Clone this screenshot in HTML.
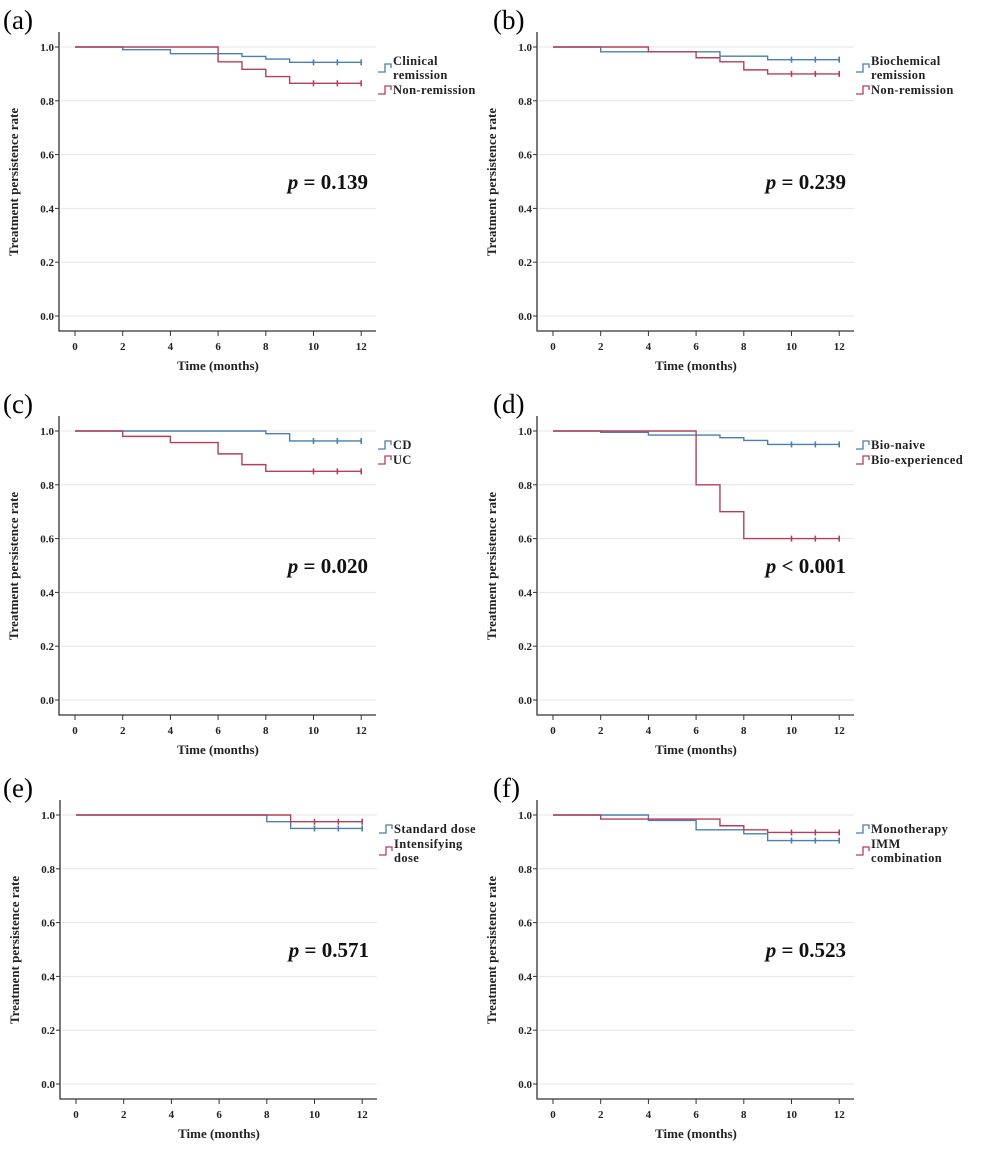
<!DOCTYPE html>
<html><head><meta charset="utf-8"><style>
body{margin:0;background:#fff;width:984px;height:1154px;overflow:hidden}
svg{display:block}
text{font-family:"Liberation Serif",serif}
</style></head><body>
<svg id="fig" width="984" height="1154" viewBox="0 0 984 1154"></svg>
<script>
const ticksX = [0,2,4,6,8,10,12];
const ticksY = [0,0.2,0.4,0.6,0.8,1.0];
const tickLabelsY = ["0.0","0.2","0.4","0.6","0.8","1.0"];
const panelLabels = ["(a)","(b)","(c)","(d)","(e)","(f)"];
const pValues = ["p = 0.139","p = 0.239","p = 0.020","p < 0.001","p = 0.571","p = 0.523"];
const aBlueT=[0,2,4,7,8,9,12], aBlueS=[1,0.99,0.975,0.965,0.955,0.943,0.943];
const aRedT=[0,6,7,8,9,12], aRedS=[1,0.945,0.917,0.89,0.865,0.865];
const bBlueT=[0,2,7,9,12], bBlueS=[1,0.982,0.966,0.953,0.953];
const bRedT=[0,4,6,7,8,9,12], bRedS=[1,0.982,0.96,0.945,0.915,0.9,0.9];
const cBlueT=[0,8,9,12], cBlueS=[1,0.99,0.963,0.963];
const cRedT=[0,2,4,6,7,8,12], cRedS=[1,0.98,0.957,0.915,0.875,0.85,0.85];
const dBlueT=[0,2,4,7,8,9,12], dBlueS=[1,0.995,0.985,0.975,0.965,0.95,0.95];
const dRedT=[0,6,7,8,12], dRedS=[1,0.8,0.7,0.6,0.6];
const eBlueT=[0,8,9,12], eBlueS=[1,0.975,0.95,0.95];
const eRedT=[0,9,12], eRedS=[1,0.975,0.975];
const fBlueT=[0,4,6,8,9,12], fBlueS=[1,0.98,0.945,0.93,0.905,0.905];
const fRedT=[0,2,6,7,8,9,12], fRedS=[1,0.985,0.985,0.96,0.945,0.935,0.935];
const censorTimes=[10,11,12];
const legends=[["Clinical|remission","Non-remission"],["Biochemical|remission","Non-remission"],["CD","UC"],["Bio-naive","Bio-experienced"],["Standard dose","Intensifying|dose"],["Monotherapy","IMM|combination"]];
const series=[[aBlueT,aBlueS,aRedT,aRedS],[bBlueT,bBlueS,bRedT,bRedS],[cBlueT,cBlueS,cRedT,cRedS],[dBlueT,dBlueS,dRedT,dRedS],[eBlueT,eBlueS,eRedT,eRedS],[fBlueT,fBlueS,fRedT,fRedS]];
const origins=[[75,47],[553,47],[75,431],[553,431],[76,815],[553,815]];
const BLUE="#4a7fae", RED="#b2405c";
const svg=document.getElementById('fig');
const NS="http://www.w3.org/2000/svg";
function mk(tag,attrs,parent){const e=document.createElementNS(NS,tag);for(const k in attrs)e.setAttribute(k,attrs[k]);(parent||svg).appendChild(e);return e;}
function stepPath(T,S,sx,sy){let d=`M${sx(T[0])},${sy(S[0])}`;for(let i=1;i<T.length;i++){d+=` H${sx(T[i])} V${sy(S[i])}`;}return d;}
function survAt(T,S,t){let v=S[0];for(let i=0;i<T.length;i++){if(T[i]<=t)v=S[i];}return v;}
for(let p=0;p<6;p++){
  const [ox,oy]=origins[p];
  const sx=t=>ox+t*23.85, sy=v=>oy+(1-v)*269;
  const g=mk('g',{});
  
  
  const lab=mk('text',{x:(p%2?493:3),y:oy-18,'font-size':27},g);lab.textContent=panelLabels[p];
  
  ticksY.forEach((v,i)=>{
    const gl=mk('line',{x1:ox-14,x2:ox+301,y1:sy(v),y2:sy(v),stroke:'#e4e4e4','stroke-width':1},g);
    
    mk('line',{x1:ox-20,x2:ox-16,y1:sy(v),y2:sy(v),stroke:'#333','stroke-width':1},g);
    const t=mk('text',{x:ox-21,y:sy(v)+4,'font-size':11,'font-weight':'bold','text-anchor':'end',fill:'#222'},g);t.textContent=tickLabelsY[i];
    
  });
  ticksX.forEach(v=>{
    mk('line',{x1:sx(v),x2:sx(v),y1:oy+284,y2:oy+289,stroke:'#333','stroke-width':1},g);
    const t=mk('text',{x:sx(v),y:oy+303,'font-size':11,'font-weight':'bold','text-anchor':'middle',fill:'#222'},g);t.textContent=v;
    
  });
  const ax=mk('path',{d:`M${ox-16},${oy-15} V${oy+284} H${ox+301}`,fill:'none',stroke:'#333','stroke-width':1.3},g);
  
  const xt=mk('text',{x:ox+143,y:oy+323,'font-size':13,'font-weight':'bold','text-anchor':'middle',fill:'#222'},g);xt.textContent="Time (months)";
  
  const yt=mk('text',{x:0,y:0,'font-size':13,'font-weight':'bold','text-anchor':'middle',fill:'#222',transform:`translate(${ox-57},${oy+135}) rotate(-90)`},g);yt.textContent="Treatment persistence rate";
  
  const [bT,bS,rT,rS]=series[p];
  [[bT,bS,BLUE,'blue'],[rT,rS,RED,'red']].forEach(([T,S,c,nm])=>{
    const pa=mk('path',{d:stepPath(T,S,sx,sy),fill:'none',stroke:c,'stroke-width':1.4},g);
    
    censorTimes.forEach(t=>{
      const m=mk('line',{x1:sx(t),x2:sx(t),y1:sy(survAt(T,S,t))-3,y2:sy(survAt(T,S,t))+3,stroke:c,'stroke-width':1.6},g);
      
    });
  });
  const pt=mk('text',{x:ox+293,y:oy+142,'font-size':21,'font-weight':'bold','text-anchor':'end',fill:'#111'},g);
  const pv=pValues[p];
  const ti=mk('tspan',{'font-style':'italic'},pt);ti.textContent="p";
  const tr=mk('tspan',{},pt);tr.textContent=pv.slice(1);
  
  const lx=ox+303; let ly=oy+14;
  legends[p].forEach((lbl,i)=>{
    const lines=lbl.split('|');
    const c=i===0?BLUE:RED;
    const ib=ly+(lines.length>1?7:0);
    const ic=mk('path',{d:`M${lx},${ib+4} H${lx+7} V${ib-4} H${lx+13} V${ib}`,fill:'none',stroke:c,'stroke-width':1.3},g);
    
    lines.forEach((ln,j)=>{
      const t=mk('text',{x:lx+15,y:ly+4+j*14,'font-size':12.5,'font-weight':'bold',fill:'#222','letter-spacing':'0.4'},g);t.textContent=ln;
      
    });
    ly+=lines.length*14+1;
  });
}
</script>
</body></html>
